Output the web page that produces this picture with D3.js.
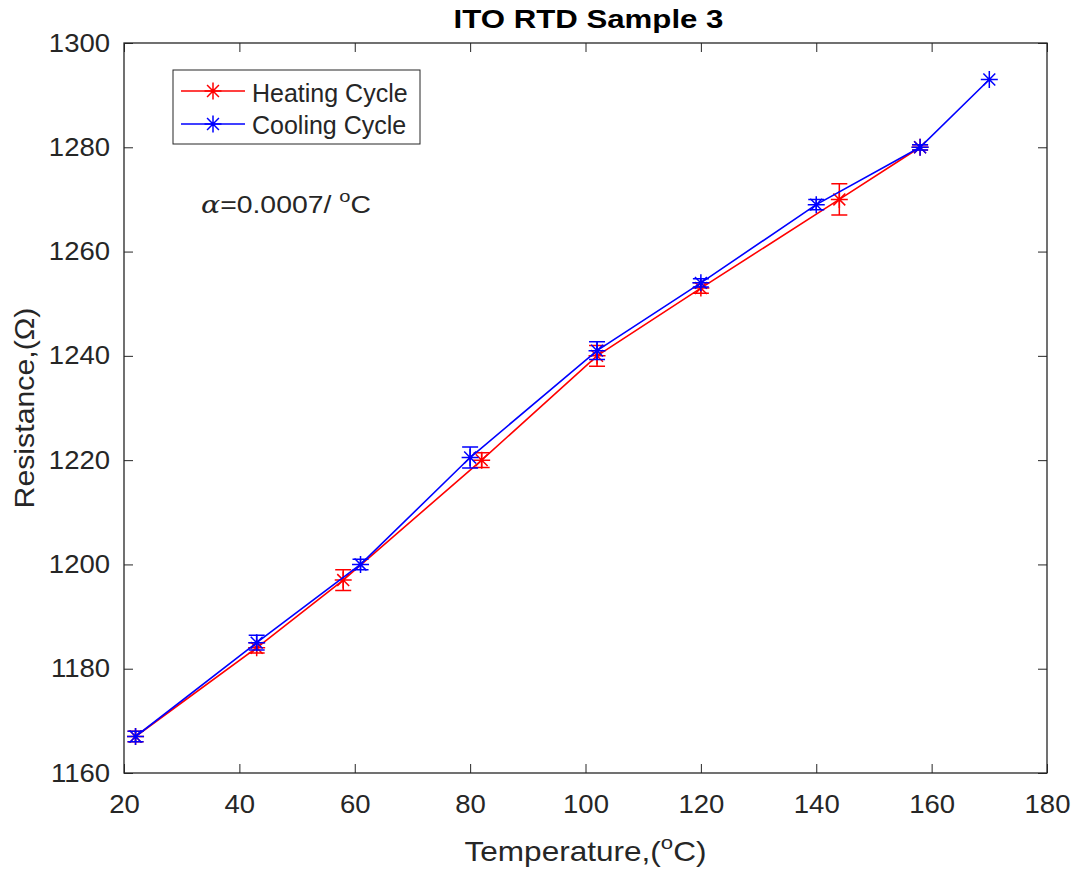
<!DOCTYPE html>
<html>
<head>
<meta charset="utf-8">
<script src="https://cdn.jsdelivr.net/npm/d3@7"></script>
<style>
  body { margin: 0; background: #fff; }
  text { font-family: Arial, "Liberation Sans", Helvetica, sans-serif; fill: #262626; }
</style>
</head>
<body>
<div id="chart"></div>
<script>
// Heating cycle data
const heatTemp = [22, 43, 58, 82, 102, 120, 144, 158];
const heatRes  = [1167, 1184, 1197, 1220, 1240, 1253, 1270, 1280];
const heatErr  = [1, 1, 2, 1.4, 2, 1, 3, 0.5];

// Cooling cycle data
const coolTemp = [22, 43, 61, 80, 102, 120, 140, 158, 170];
const coolRes  = [1167, 1185, 1200, 1220.5, 1241, 1254, 1269, 1280, 1293];
const coolErr  = [1, 1.4, 1, 2, 1.7, 0.8, 1, 0.5, 0];

const xTicks = [20, 40, 60, 80, 100, 120, 140, 160, 180];
const yTicks = [1160, 1180, 1200, 1220, 1240, 1260, 1280, 1300];

const margin = {top: 43, right: 31, bottom: 103, left: 124};
const W = 1078, H = 876;
const width = W - margin.left - margin.right;
const height = H - margin.top - margin.bottom;

const svg = d3.select("#chart")
    .append("svg")
    .attr("width", W)
    .attr("height", H);

const g = svg.append("g")
    .attr("transform", `translate(${margin.left},${margin.top})`);

const x = d3.scaleLinear().domain([20, 180]).range([0, width]);
const y = d3.scaleLinear().domain([1160, 1300]).range([height, 0]);

// stretch a text horizontally around (ax, ay) so it is `sx` times wider
function stretch(node, sx, ax, ay) {
    d3.select(node).attr("transform",
        `translate(${ax},${ay}) scale(${sx},1) translate(${-ax},${-ay})`);
}

const axisColor = "#262626";
function styleAxis(sel) {
    sel.select(".domain").remove();
    sel.selectAll(".tick line").attr("stroke", axisColor).attr("stroke-width", 1);
    sel.selectAll(".tick text").style("font-size", "25px").attr("fill", axisColor)
        .each(function() {
            const t = d3.select(this);
            stretch(this, 1.1, +t.attr("x") || 0, 0);
        });
}

const fmt = d3.format("d");
g.append("g")
    .attr("transform", `translate(0,${height})`)
    .call(d3.axisBottom(x).tickValues(xTicks).tickFormat(fmt).tickSizeInner(-9).tickPadding(22))
    .call(styleAxis);
g.append("g")
    .call(d3.axisTop(x).tickValues(xTicks).tickSizeInner(-9).tickFormat(""))
    .call(styleAxis);
g.append("g")
    .call(d3.axisLeft(y).tickValues(yTicks).tickFormat(fmt).tickSizeInner(-9).tickPadding(14))
    .call(styleAxis);
g.append("g")
    .attr("transform", `translate(${width},0)`)
    .call(d3.axisRight(y).tickValues(yTicks).tickSizeInner(-9).tickFormat(""))
    .call(styleAxis);

g.append("rect")
    .attr("width", width)
    .attr("height", height)
    .attr("fill", "none")
    .attr("stroke", axisColor)
    .attr("stroke-width", 1.3);

const line = d3.line().x(d => x(d[0])).y(d => y(d[1]));

function star(sel, cx, cy, color) {
    const r = 8.5, d = r * 0.7;
    const p = `M${cx - r},${cy}L${cx + r},${cy}M${cx},${cy - r}L${cx},${cy + r}` +
        `M${cx - d},${cy - d}L${cx + d},${cy + d}M${cx - d},${cy + d}L${cx + d},${cy - d}`;
    sel.append("path").attr("d", p).attr("stroke", color).attr("stroke-width", 1.5).attr("fill", "none");
}

function drawSeries(temps, res, errs, color) {
    const pts = temps.map((t, i) => [t, res[i], errs[i]]);
    g.append("path")
        .datum(pts)
        .attr("d", line)
        .attr("fill", "none")
        .attr("stroke", color)
        .attr("stroke-width", 1.6);
    const eg = g.append("g");
    pts.forEach(p => {
        const cx = x(p[0]);
        if (p[2] > 0) {
            const y0 = y(p[1] - p[2]), y1 = y(p[1] + p[2]);
            eg.append("path")
                .attr("d", `M${cx},${y0}L${cx},${y1}M${cx - 8},${y0}L${cx + 8},${y0}M${cx - 8},${y1}L${cx + 8},${y1}`)
                .attr("stroke", color).attr("stroke-width", 1.5).attr("fill", "none");
        }
        star(eg, cx, y(p[1]), color);
    });
}

drawSeries(heatTemp, heatRes, heatErr, "#ff0000");
drawSeries(coolTemp, coolRes, coolErr, "#0000ff");

// legend
const lg = svg.append("g").attr("transform", "translate(173,70)");
lg.append("rect")
    .attr("width", 247).attr("height", 74)
    .attr("fill", "#fff").attr("stroke", axisColor).attr("stroke-width", 1);
[["Heating Cycle", "#ff0000", 21, 32], ["Cooling Cycle", "#0000ff", 54, 64]].forEach(([label, color, ly, by]) => {
    lg.append("line").attr("x1", 8).attr("x2", 72).attr("y1", ly).attr("y2", ly)
        .attr("stroke", color).attr("stroke-width", 1.5);
    star(lg, 40, ly, color);
    lg.append("text").attr("x", 79).attr("y", by).style("font-size", "25px").text(label);
});

// alpha annotation
const at = svg.append("text").attr("x", 201).attr("y", 213).style("font-size", "24px");
at.append("tspan").style("font-family", "'DejaVu Serif', 'Liberation Serif', serif").style("font-style", "italic").text("α");
at.append("tspan").text("=0.0007/ ");
at.append("tspan").attr("dy", -11).style("font-size", "17px").text("o");
at.append("tspan").attr("dy", 11).text("C");
stretch(at.node(), 170 / at.node().getBBox().width, 201, 213);

// title
const tcx = margin.left + width / 2 + 3;
const tt = svg.append("text")
    .attr("x", tcx)
    .attr("y", 28)
    .attr("text-anchor", "middle")
    .style("font-size", "25px")
    .style("font-weight", "bold")
    .style("fill", "#000")
    .text("ITO RTD Sample 3");
stretch(tt.node(), 270 / tt.node().getBBox().width, tcx, 28);

// x axis title
const xt = svg.append("text")
    .attr("x", margin.left + width / 2)
    .attr("y", 861)
    .attr("text-anchor", "middle")
    .style("font-size", "27px");
xt.append("tspan").text("Temperature,(");
xt.append("tspan").attr("dy", -12).style("font-size", "19px").text("o");
xt.append("tspan").attr("dy", 12).text("C)");
stretch(xt.node(), 242 / xt.node().getBBox().width, margin.left + width / 2, 861);

// y axis title
const yt = svg.append("text")
    .attr("x", 0)
    .attr("y", 0)
    .attr("text-anchor", "middle")
    .style("font-size", "27px")
    .text("Resistance,(Ω)");
const ysx = 201 / yt.node().getBBox().width;
yt.attr("transform", `translate(34,${margin.top + height / 2}) rotate(-90) scale(${ysx},1)`);
</script>
</body>
</html>
